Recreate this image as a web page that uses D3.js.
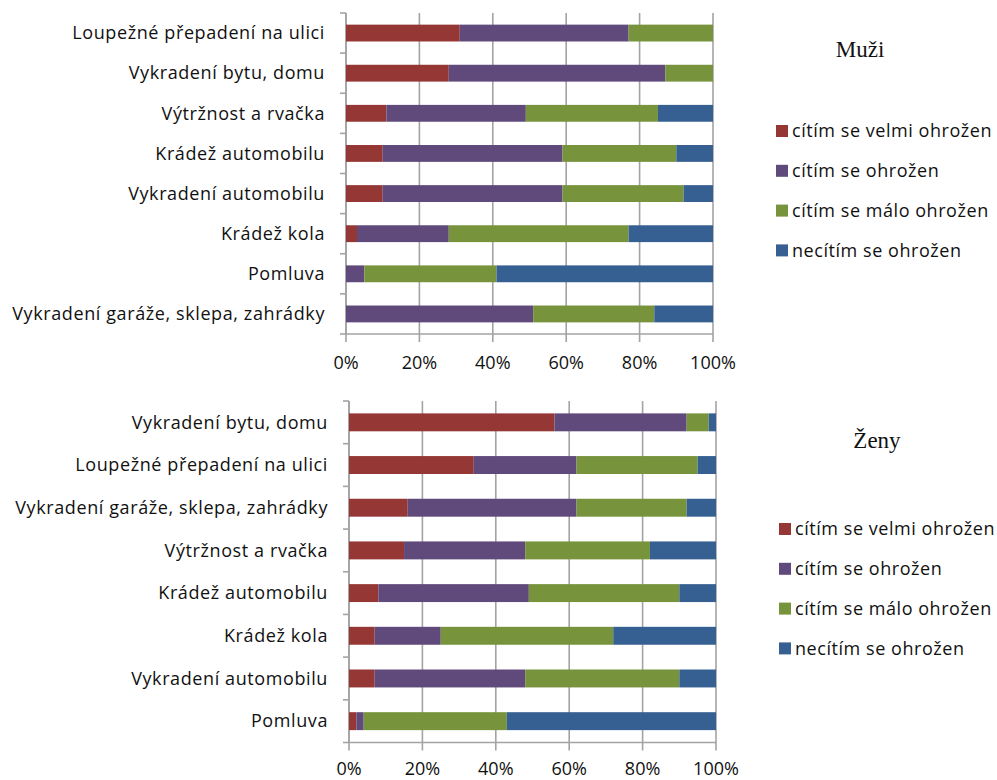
<!DOCTYPE html>
<html>
<head>
<meta charset="utf-8">
<script src="https://cdn.jsdelivr.net/npm/d3@7"></script>
<style>
  body { margin: 0; background: #fff; }
  svg text { font-family: "Open Sans", Lato, sans-serif; fill: #111; }
</style>
</head>
<body>
<svg id="chart" width="997" height="780"></svg>
<script>
// categories and shares (%), top to bottom
var seriesNames = ["cítím se velmi ohrožen", "cítím se ohrožen", "cítím se málo ohrožen", "necítím se ohrožen"];
var seriesColors = ["#953735", "#604a7b", "#77933c", "#376092"];
var xTicks = [0, 20, 40, 60, 80, 100];

var muziCategories = ["Loupežné přepadení na ulici", "Vykradení bytu, domu", "Výtržnost a rvačka", "Krádež automobilu",
    "Vykradení automobilu", "Krádež kola", "Pomluva", "Vykradení garáže, sklepa, zahrádky"];
var muziVelmi   = [31, 28, 11, 10, 10, 3, 0, 0];
var muziOhrozen = [46, 59, 38, 49, 49, 25, 5, 51];
var muziMalo    = [23, 13, 36, 31, 33, 49, 36, 33];
var muziNe      = [0, 0, 15, 10, 8, 23, 59, 16];

var zenyCategories = ["Vykradení bytu, domu", "Loupežné přepadení na ulici", "Vykradení garáže, sklepa, zahrádky",
    "Výtržnost a rvačka", "Krádež automobilu", "Krádež kola", "Vykradení automobilu", "Pomluva"];
var zenyVelmi   = [56, 34, 16, 15, 8, 7, 7, 2];
var zenyOhrozen = [36, 28, 46, 33, 41, 18, 41, 2];
var zenyMalo    = [6, 33, 30, 34, 41, 47, 42, 39];
var zenyNe      = [2, 5, 8, 18, 10, 28, 10, 57];

var svg = d3.select("#chart");

function drawChart(opts) {
    var g = svg.append("g");
    var x = d3.scaleLinear().domain([0, 100]).range([opts.left, opts.right]);
    var y = d3.scaleBand().domain(opts.categories).range([opts.top, opts.bottom]).paddingInner(0.58).paddingOuter(0.29);

    //build rows for the stack
    var rows = opts.categories.map(function(c, i) {
        var r = { cat: c };
        opts.values.forEach(function(v, k) { r[k] = v[i]; });
        return r;
    });
    var stack = d3.stack().keys([0, 1, 2, 3])(rows);

    // vertical gridlines (also the bottom ticks)
    g.selectAll(".grid").data(xTicks).enter().append("line")
        .attr("x1", d => x(d)).attr("x2", d => x(d))
        .attr("y1", opts.top).attr("y2", opts.bottom + 8)
        .attr("stroke", "#a3a3a3").attr("stroke-width", 1.6);

    // left axis + band ticks
    g.append("line").attr("x1", x(0)).attr("x2", x(0)).attr("y1", opts.top).attr("y2", opts.bottom)
        .attr("stroke", "#a3a3a3").attr("stroke-width", 1.6);
    var bounds = d3.range(opts.categories.length + 1).map(i => opts.top + i * (opts.bottom - opts.top) / opts.categories.length);
    g.selectAll(".ytick").data(bounds).enter().append("line")
        .attr("x1", x(0) - 6).attr("x2", x(0))
        .attr("y1", d => d).attr("y2", d => d)
        .attr("stroke", "#a3a3a3").attr("stroke-width", 1.6);
    g.append("line").attr("x1", x(0)).attr("x2", x(100)).attr("y1", opts.bottom).attr("y2", opts.bottom)
        .attr("stroke", "#a3a3a3").attr("stroke-width", 1.6);

    // bars
    stack.forEach(function(layer, k) {
        g.selectAll(".bar" + k).data(layer).enter().append("rect")
            .attr("x", d => x(d[0]))
            .attr("width", d => x(d[1]) - x(d[0]))
            .attr("y", d => y(d.data.cat))
            .attr("height", y.bandwidth())
            .attr("fill", seriesColors[k]);
    });

    // category labels
    g.selectAll(".cat").data(opts.categories).enter().append("text")
        .attr("x", x(0) - 21)
        .attr("y", d => y(d) + y.bandwidth() / 2)
        .attr("dy", "0.35em")
        .attr("text-anchor", "end")
        .style("font-size", "18px")
        .style("letter-spacing", "0.6px")
        .text(d => d);

    // percent labels
    g.selectAll(".pct").data(xTicks).enter().append("text")
        .attr("x", d => x(d))
        .attr("y", opts.bottom + opts.pctGap)
        .attr("dy", "0.35em")
        .attr("text-anchor", "middle")
        .style("font-size", "18px")
        .text(d => d + "%");

    // title
    svg.append("text")
        .attr("x", opts.titleX).attr("y", opts.titleY)
        .attr("text-anchor", "middle")
        .style("font-family", "'Liberation Serif', 'Times New Roman', serif")
        .style("font-size", "23px")
        .text(opts.title);

    // legend
    var leg = svg.append("g");
    seriesNames.forEach(function(name, k) {
        var ly = opts.legendY + k * 39.8;
        leg.append("rect").attr("x", opts.legendX).attr("y", ly - 6).attr("width", 12).attr("height", 12)
            .attr("fill", seriesColors[k]);
        leg.append("text").attr("x", opts.legendX + 16).attr("y", ly).attr("dy", "0.35em")
            .style("font-size", "18px").style("letter-spacing", "0.55px").text(name);
    });
}

drawChart({
    categories: muziCategories,
    values: [muziVelmi, muziOhrozen, muziMalo, muziNe],
    left: 346, right: 713, top: 13, bottom: 334,
    pctGap: 29,
    title: "Muži", titleX: 860, titleY: 57,
    legendX: 776, legendY: 131
});

drawChart({
    categories: zenyCategories,
    values: [zenyVelmi, zenyOhrozen, zenyMalo, zenyNe],
    left: 349, right: 716, top: 401, bottom: 742.5,
    pctGap: 26,
    title: "Ženy", titleX: 877, titleY: 448,
    legendX: 779, legendY: 529
});
</script>
</body>
</html>
